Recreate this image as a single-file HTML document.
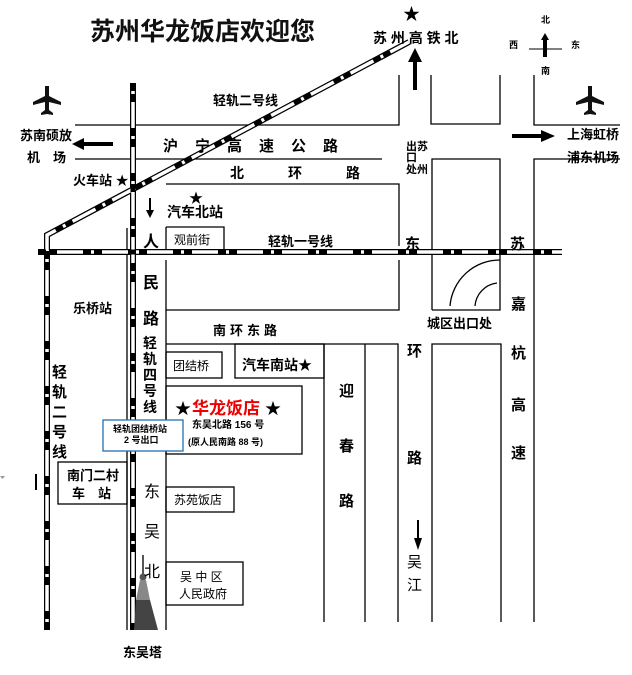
<!DOCTYPE html>
<html><head><meta charset="utf-8"><style>
html,body{margin:0;padding:0;background:#fff;}
svg{display:block;font-family:"Liberation Sans","Noto Sans CJK SC",sans-serif;}
.t{font-size:13px;font-weight:bold;fill:#000;}
.r{fill:none;stroke:#000;stroke-width:1.3;}
</style></head><body>
<svg width="632" height="675" viewBox="0 0 632 675" xmlns="http://www.w3.org/2000/svg">
<rect width="632" height="675" fill="#fff"/>
<text x="90" y="40" style="font-size:25px;font-weight:bold" fill="#111">苏州华龙饭店欢迎您</text>

<g class="r">
<path d="M75 125H130M136 125H399V75"/>
<path d="M431 75V124H500V75"/>
<path d="M534 75V125H620"/>
<path d="M75 159H130M136 159H382"/>
<path d="M432 310V159H500V310H432"/>
<path d="M534 622V159H620"/>
<path d="M166 184H399V246M399 260V310H166V260"/>
<path d="M166 227H224V249M166 227V249"/>
<path d="M127 228V630M166 310V630"/>
<path d="M166 344H398V622M324 344V622M365 344V622"/>
<path d="M432 622V344H501V622"/>
<rect x="166" y="352" width="56" height="26"/>
<rect x="235" y="344" width="89" height="34"/>
<rect x="166" y="386" width="136" height="68"/>
<rect x="58" y="462" width="69" height="42"/>
<rect x="166" y="487" width="68" height="25"/>
<rect x="166" y="562" width="77" height="43"/>
<path d="M450 306A50 50 0 0 1 500 260M475 306A25 25 0 0 1 497 283"/>
</g>

<g fill="none">
<path d="M38 252H562M133 83V630M47 630V235L409 42" stroke="#000" stroke-width="6"/>
<path d="M38 252H562M133 83V630M47 630V235L409 42" stroke="#fff" stroke-width="3.5"/>
<path d="M38 252H562M133 83V630M47 630V235L409 42" stroke="#000" stroke-width="5" stroke-dasharray="8 3 8 26"/>
</g>
<rect x="103" y="420" width="80" height="31" fill="#fff" stroke="#1f6fb5" stroke-width="1.3"/>

<g fill="#000">
<path d="M113 142H84V138L72 144L84 150V146H113Z"/>
<path d="M512 134H541V130L555 136L541 142V138H512Z"/>
<path d="M413 90V62H408L415 48L422 62H417V90Z"/>
<path d="M149 198V210H146L150 218L154 210H151V198Z"/>
<path d="M417 520V538H414L418 550L422 538H419V520Z"/>
<path d="M543 57V40H541L545 33L549 40H547V57Z"/>
</g>
<path d="M529 49H562" stroke="#000" stroke-width="1"/>
<g fill="#111">
<path d="M45 86h4v10l12 6v3l-12-3v8l4 3v2l-6-1-6 1v-2l4-3v-8l-12 3v-3l12-6z"/>
<path d="M588 86h4v10l12 6v3l-12-3v8l4 3v2l-6-1-6 1v-2l4-3v-8l-12 3v-3l12-6z"/>
</g>
<g fill="#555">
<rect x="142" y="555" width="2" height="20"/>
<circle cx="143" cy="577" r="3.5"/>
<path d="M140 580h6l4 20h-14z" fill="#888"/>
<path d="M136 600h14l8 30h-24z" fill="#444"/>
</g>
<rect x="35" y="474" width="2" height="16" fill="#000"/>
<path d="M0 476h5l-2.5 3z" fill="#999"/>

<g class="t">
<text x="403" y="20" style="font-size:17px">★</text>
<text x="373" y="43" style="font-size:14px">苏 州 高 铁 北</text>
<text x="541" y="23" style="font-size:9px">北</text>
<text x="509" y="48" style="font-size:9px">西</text>
<text x="571" y="48" style="font-size:9px">东</text>
<text x="541" y="74" style="font-size:9px">南</text>
<text x="213" y="105">轻轨二号线</text>
<text x="20" y="140">苏南硕放</text>
<text x="27" y="162">机　场</text>
<text x="163" y="151" style="font-size:15px;letter-spacing:17px">沪宁高速公路</text>
<text x="230" y="178" style="font-size:14px">北</text>
<text x="288" y="178" style="font-size:14px">环</text>
<text x="346" y="178" style="font-size:14px">路</text>
<text x="73" y="185">火车站 ★</text>
<text x="189" y="203" style="font-size:14px">★</text>
<text x="167" y="217" style="font-size:14px">汽车北站</text>
<text x="174" y="244" style="font-weight:normal;font-size:12px">观前街</text>
<text x="268" y="246">轻轨一号线</text>
<text x="143" y="247" style="font-size:16px">人</text>
<text x="143" y="288" style="font-size:16px">民</text>
<text x="143" y="324" style="font-size:16px">路</text>
<text x="143" y="348" style="font-size:14px">轻</text>
<text x="143" y="364" style="font-size:14px">轨</text>
<text x="143" y="380" style="font-size:14px">四</text>
<text x="143" y="396" style="font-size:14px">号</text>
<text x="143" y="412" style="font-size:14px">线</text>
<text x="406" y="150" style="font-size:11px">出苏</text>
<text x="406" y="161" style="font-size:11px">口</text>
<text x="406" y="173" style="font-size:11px">处州</text>
<text x="567" y="139">上海虹桥</text>
<text x="567" y="162">浦东机场</text>
<text x="405" y="249" style="font-size:15px">东</text>
<text x="510" y="249" style="font-size:15px">苏</text>
<text x="73" y="313">乐桥站</text>
<text x="213" y="335" style="letter-spacing:4px">南环东路</text>
<text x="427" y="328">城区出口处</text>
<text x="511" y="309" style="font-size:15px">嘉</text>
<text x="511" y="358" style="font-size:15px">杭</text>
<text x="511" y="410" style="font-size:15px">高</text>
<text x="511" y="458" style="font-size:15px">速</text>
<text x="407" y="356" style="font-size:15px">环</text>
<text x="407" y="463" style="font-size:15px">路</text>
<text x="407" y="567" style="font-size:15px;font-weight:normal">吴</text>
<text x="407" y="590" style="font-size:15px;font-weight:normal">江</text>
<text x="339" y="396" style="font-size:15px">迎</text>
<text x="339" y="451" style="font-size:15px">春</text>
<text x="339" y="506" style="font-size:15px">路</text>
<text x="52" y="377" style="font-size:15px">轻</text>
<text x="52" y="397" style="font-size:15px">轨</text>
<text x="52" y="417" style="font-size:15px">二</text>
<text x="52" y="437" style="font-size:15px">号</text>
<text x="52" y="457" style="font-size:15px">线</text>
<text x="173" y="370" style="font-weight:normal;font-size:12px">团结桥</text>
<text x="242" y="370" style="font-size:14px">汽车南站★</text>
<text x="175" y="414" style="font-size:16px">★</text>
<text x="192" y="414" style="font-size:17px;fill:#e00">华龙饭店</text>
<text x="265" y="414" style="font-size:16px">★</text>
<text x="192" y="428" style="font-size:10px">东吴北路 156 号</text>
<text x="188" y="445" style="font-size:9px">(原人民南路 88 号)</text>
<text x="113" y="432" style="font-size:9px">轻轨团结桥站</text>
<text x="124" y="443" style="font-size:9px">2 号出口</text>
<text x="67" y="480">南门二村</text>
<text x="72" y="498">车　站</text>
<text x="174" y="504" style="font-weight:normal;font-size:12px">苏苑饭店</text>
<text x="180" y="581" style="font-weight:normal;font-size:12px">吴 中 区</text>
<text x="179" y="598" style="font-weight:normal;font-size:12px">人民政府</text>
<text x="144" y="497" style="font-size:16px;font-weight:normal">东</text>
<text x="144" y="537" style="font-size:16px;font-weight:normal">吴</text>
<text x="144" y="577" style="font-size:16px;font-weight:normal">北</text>
<text x="123" y="657">东吴塔</text>
</g>
</svg>
</body></html>
